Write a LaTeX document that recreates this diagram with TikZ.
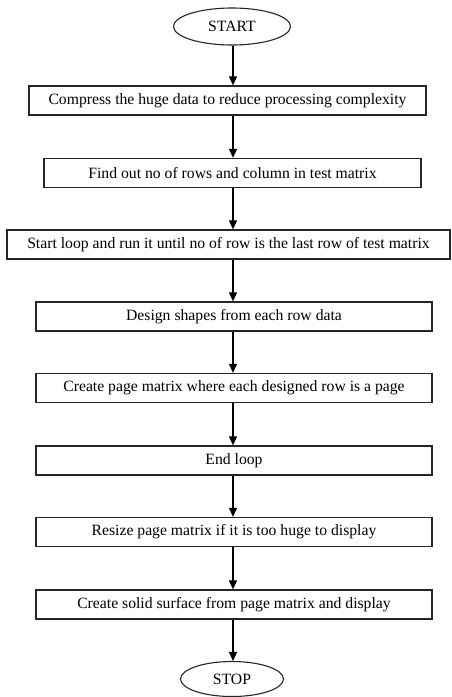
\documentclass[tikz,border=0pt]{standalone}
\usepackage{fontspec}
\setmainfont{Liberation Serif}
\usetikzlibrary{shapes.geometric,arrows.meta}

\tikzset{
    stepbox/.style={draw=black!85, line width=1.3pt, minimum height=29pt, inner sep=0pt,
        font=\fontsize{15.7}{18}\selectfont},
    terminal/.style={ellipse, draw=black!85, line width=1.1pt, inner sep=0pt,
        font=\fontsize{15.7}{18}\selectfont},
    arr/.style={line width=1.2pt, -{Triangle[width=8pt,length=9pt]}}
}

\begin{document}
\begin{tikzpicture}[x=1pt, y=-1pt]
        \useasboundingbox (0,0) rectangle (452,697);
        \coordinate (col) at (233,0);

        \node[terminal, minimum width=117pt, minimum height=37pt] (start) at (232,26.5) {START};
        \node[stepbox, minimum width=397pt] (compress) at (227.5,100.5) {Compress the huge data to reduce processing complexity};
        \node[stepbox, minimum width=377pt] (find) at (232.5,173) {Find out no of rows and column in test matrix};
        \node[stepbox, minimum width=443pt] (loop) at (228.5,244.5) {Start loop and run it until no of row is the last row of test matrix};
        \node[stepbox, minimum width=396pt] (design) at (234,316.5) {Design shapes from each row data};
        \node[stepbox, minimum width=396pt] (page) at (234,388) {Create page matrix where each designed row is a page};
        \node[stepbox, minimum width=396pt] (endloop) at (234,460.5) {End loop};
        \node[stepbox, minimum width=396pt] (resize) at (234,532) {Resize page matrix if it is too huge to display};
        \node[stepbox, minimum width=396pt] (surface) at (234,604.5) {Create solid surface from page matrix and display};
        \node[terminal, minimum width=103pt, minimum height=35pt] (stop) at (232,679) {STOP};

        \draw[arr] (col |- start.south) -- (col |- compress.north);
        \draw[arr] (col |- compress.south) -- (col |- find.north);
        \draw[arr] (col |- find.south) -- (col |- loop.north);
        \draw[arr] (col |- loop.south) -- (col |- design.north);
        \draw[arr] (col |- design.south) -- (col |- page.north);
        \draw[arr] (col |- page.south) -- (col |- endloop.north);
        \draw[arr] (col |- endloop.south) -- (col |- resize.north);
        \draw[arr] (col |- resize.south) -- (col |- surface.north);
        \draw[arr] (col |- surface.south) -- (col |- stop.north);
\end{tikzpicture}
\end{document}
